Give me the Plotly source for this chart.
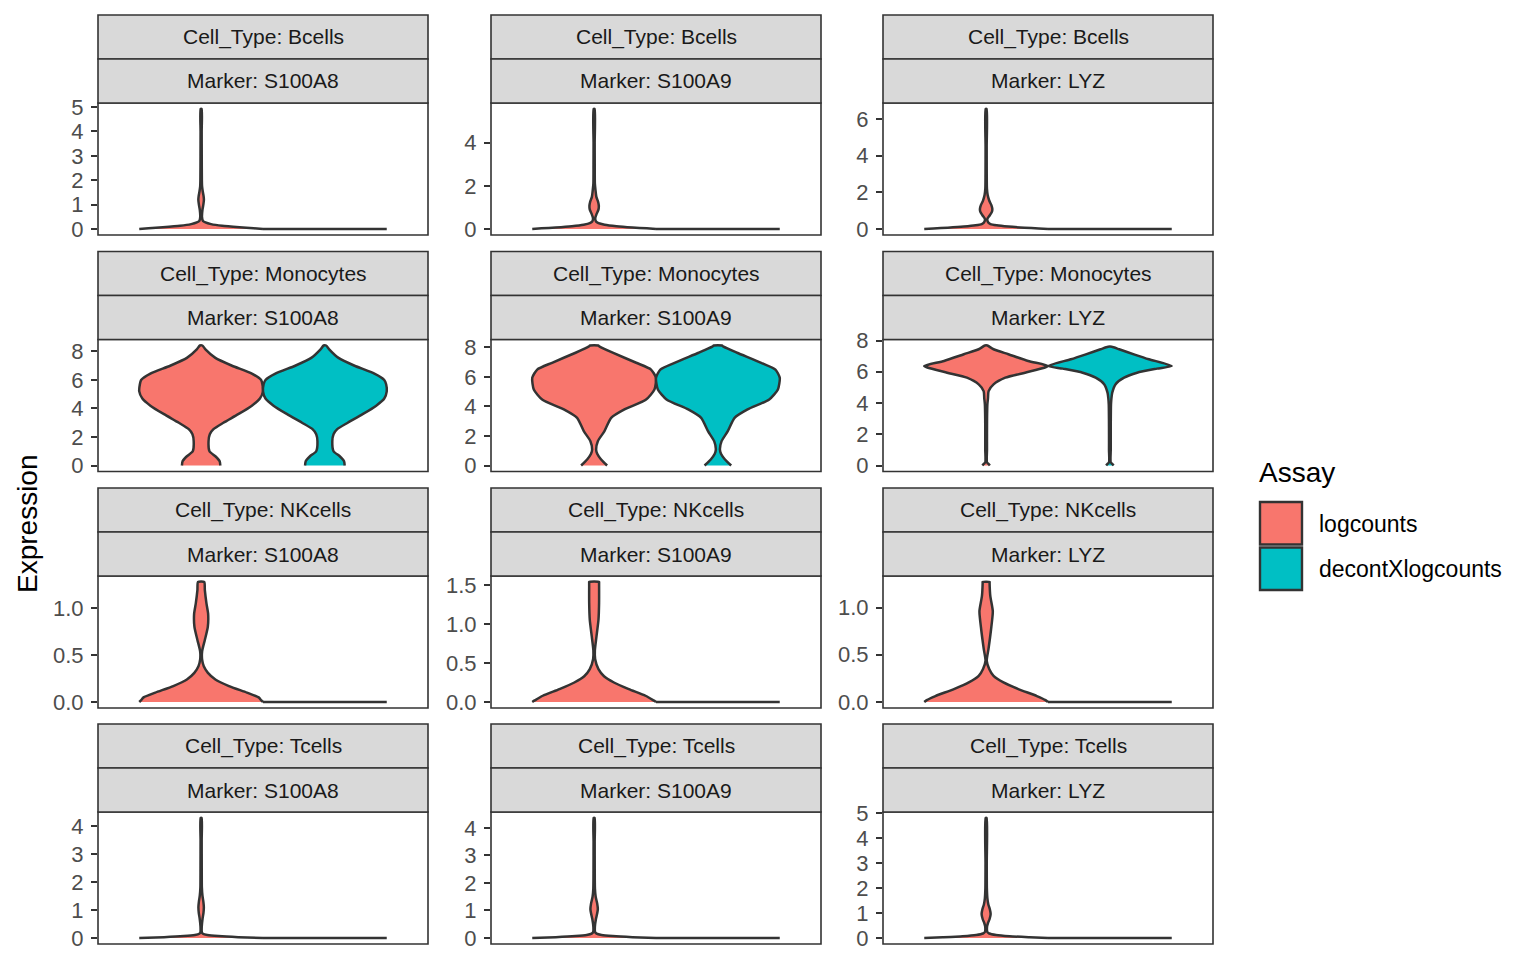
import plotly.graph_objects as go

W, H = 1536, 960

cell_types = ["Bcells", "Monocytes", "NKcells", "Tcells"]
markers = ["S100A8", "S100A9", "LYZ"]
assays = ["logcounts", "decontXlogcounts"]
assay_colors = ["#F8766D", "#00BFC4"]

# ---- violin profiles: expression levels (y) and relative half-widths (w, 1 = full violin width)
zero_y = [0, 0]
zero_w = [1.0, 1.0]

bc_a8_log_y = [0, 0.03, 0.07, 0.13, 0.2, 0.27, 0.33, 0.5, 0.8, 1.0, 1.2, 1.35, 1.55, 1.76, 2.0, 3.0, 4.0, 4.92]
bc_a8_log_w = [1.0, 0.85, 0.62, 0.34, 0.16, 0.07, 0.03, 0.014, 0.022, 0.036, 0.045, 0.04, 0.026, 0.015, 0.012, 0.01, 0.009, 0.008]

bc_a9_log_y = [0, 0.03, 0.07, 0.13, 0.2, 0.27, 0.35, 0.5, 0.7, 0.9, 1.07, 1.25, 1.5, 1.8, 2.1, 3.0, 4.0, 5.56]
bc_a9_log_w = [1.0, 0.85, 0.62, 0.36, 0.17, 0.07, 0.03, 0.018, 0.04, 0.07, 0.076, 0.065, 0.035, 0.022, 0.012, 0.01, 0.009, 0.008]

bc_lyz_log_y = [0, 0.03, 0.07, 0.13, 0.2, 0.27, 0.35, 0.55, 0.75, 0.95, 1.1, 1.3, 1.55, 1.85, 2.2, 3.0, 4.5, 6.54]
bc_lyz_log_w = [1.0, 0.85, 0.62, 0.36, 0.17, 0.07, 0.035, 0.02, 0.06, 0.095, 0.1, 0.085, 0.05, 0.025, 0.013, 0.01, 0.009, 0.008]

mo_a8_y = [0, 0.3, 0.65, 1.0, 1.7, 2.2, 2.55, 3.0, 3.6, 4.2, 4.7, 5.2, 5.7, 6.0, 6.45, 7.0, 7.55, 8.15, 8.42]
mo_a8_log_w = [0.31, 0.30, 0.23, 0.135, 0.12, 0.14, 0.2, 0.36, 0.6, 0.82, 0.95, 1.0, 0.99, 0.97, 0.82, 0.5, 0.23, 0.07, 0.02]
mo_a8_dec_w = [0.32, 0.31, 0.24, 0.14, 0.12, 0.14, 0.2, 0.37, 0.61, 0.83, 0.96, 1.0, 0.99, 0.96, 0.8, 0.48, 0.22, 0.07, 0.02]

mo_a9_y = [0, 0.41, 0.8, 1.08, 1.65, 2.33, 3.23, 3.8, 4.47, 5.15, 5.94, 6.5, 6.96, 7.64, 8.05, 8.13]
mo_a9_log_w = [0.21, 0.113, 0.05, 0.032, 0.06, 0.167, 0.275, 0.49, 0.84, 0.975, 1.0, 0.92, 0.68, 0.30, 0.09, 0.065]
mo_a9_dec_w = [0.215, 0.115, 0.05, 0.033, 0.06, 0.16, 0.27, 0.48, 0.83, 0.97, 1.0, 0.93, 0.7, 0.31, 0.09, 0.065]

mo_lyz_log_y = [0, 0.08, 0.2, 1, 2, 3, 3.9, 4.3, 4.76, 5.19, 5.62, 5.94, 6.27, 6.37, 6.69, 7.12, 7.44, 7.68]
mo_lyz_log_w = [0.06, 0.045, 0.014, 0.014, 0.014, 0.015, 0.02, 0.03, 0.04, 0.12, 0.31, 0.63, 0.95, 1.0, 0.68, 0.36, 0.12, 0.02]
mo_lyz_dec_y = [0, 0.08, 0.2, 1, 2, 3, 3.9, 4.3, 4.66, 5.19, 5.62, 5.94, 6.2, 6.37, 6.8, 7.1, 7.44, 7.6]
mo_lyz_dec_w = [0.06, 0.045, 0.014, 0.014, 0.014, 0.015, 0.018, 0.025, 0.038, 0.09, 0.23, 0.44, 0.76, 1.0, 0.63, 0.4, 0.15, 0.03]

nk_a8_log_y = [0, 0.02, 0.049, 0.10, 0.17, 0.24, 0.31, 0.38, 0.45, 0.54, 0.66, 0.80, 0.94, 1.05, 1.19, 1.277]
nk_a8_log_w = [1.0, 0.97, 0.93, 0.74, 0.45, 0.23, 0.11, 0.043, 0.016, 0.016, 0.06, 0.108, 0.113, 0.086, 0.06, 0.05]

nk_a9_log_y = [0, 0.02, 0.08, 0.165, 0.25, 0.33, 0.42, 0.55, 0.66, 0.84, 1.05, 1.27, 1.52, 1.537]
nk_a9_log_w = [1.0, 0.96, 0.83, 0.56, 0.32, 0.16, 0.07, 0.016, 0.012, 0.038, 0.07, 0.08, 0.08, 0.08]

nk_lyz_log_y = [0, 0.02, 0.063, 0.137, 0.207, 0.277, 0.35, 0.435, 0.56, 0.77, 0.96, 1.12, 1.26, 1.27]
nk_lyz_log_w = [1.0, 0.96, 0.82, 0.52, 0.28, 0.12, 0.05, 0.01, 0.038, 0.08, 0.108, 0.068, 0.056, 0.056]

tc_a8_log_y = [0, 0.03, 0.07, 0.11, 0.15, 0.2, 0.4, 0.7, 0.9, 1.1, 1.3, 1.5, 1.8, 2.5, 3.5, 4.28]
tc_a8_log_w = [1.0, 0.6, 0.28, 0.1, 0.03, 0.012, 0.01, 0.024, 0.038, 0.044, 0.036, 0.022, 0.012, 0.01, 0.009, 0.008]

tc_a9_log_y = [0, 0.03, 0.07, 0.11, 0.16, 0.22, 0.4, 0.7, 0.9, 1.05, 1.25, 1.5, 1.8, 2.5, 3.5, 4.36]
tc_a9_log_w = [1.0, 0.62, 0.3, 0.12, 0.04, 0.015, 0.012, 0.03, 0.05, 0.06, 0.05, 0.025, 0.013, 0.01, 0.009, 0.008]

tc_lyz_log_y = [0, 0.03, 0.07, 0.12, 0.18, 0.24, 0.45, 0.6, 0.75, 0.96, 1.15, 1.35, 1.6, 2.0, 3.0, 4.8]
tc_lyz_log_w = [1.0, 0.7, 0.38, 0.16, 0.05, 0.02, 0.015, 0.03, 0.055, 0.073, 0.06, 0.035, 0.02, 0.012, 0.01, 0.008]

profiles = {
    ("Bcells", "S100A8"): [(bc_a8_log_y, bc_a8_log_w), (zero_y, zero_w)],
    ("Bcells", "S100A9"): [(bc_a9_log_y, bc_a9_log_w), (zero_y, zero_w)],
    ("Bcells", "LYZ"): [(bc_lyz_log_y, bc_lyz_log_w), (zero_y, zero_w)],
    ("Monocytes", "S100A8"): [(mo_a8_y, mo_a8_log_w), (mo_a8_y, mo_a8_dec_w)],
    ("Monocytes", "S100A9"): [(mo_a9_y, mo_a9_log_w), (mo_a9_y, mo_a9_dec_w)],
    ("Monocytes", "LYZ"): [(mo_lyz_log_y, mo_lyz_log_w), (mo_lyz_dec_y, mo_lyz_dec_w)],
    ("NKcells", "S100A8"): [(nk_a8_log_y, nk_a8_log_w), (zero_y, zero_w)],
    ("NKcells", "S100A9"): [(nk_a9_log_y, nk_a9_log_w), (zero_y, zero_w)],
    ("NKcells", "LYZ"): [(nk_lyz_log_y, nk_lyz_log_w), (zero_y, zero_w)],
    ("Tcells", "S100A8"): [(tc_a8_log_y, tc_a8_log_w), (zero_y, zero_w)],
    ("Tcells", "S100A9"): [(tc_a9_log_y, tc_a9_log_w), (zero_y, zero_w)],
    ("Tcells", "LYZ"): [(tc_lyz_log_y, tc_lyz_log_w), (zero_y, zero_w)],
}

# ---- y tick values per panel
ticks_0to5 = [0, 1, 2, 3, 4, 5]
ticks_0to4 = [0, 1, 2, 3, 4]
ticks_even4 = [0, 2, 4]
ticks_even6 = [0, 2, 4, 6]
ticks_even8 = [0, 2, 4, 6, 8]
ticks_half1 = [0, 0.5, 1.0]
ticks_half15 = [0, 0.5, 1.0, 1.5]

tick_map = {
    ("Bcells", "S100A8"): ticks_0to5, ("Bcells", "S100A9"): ticks_even4, ("Bcells", "LYZ"): ticks_even6,
    ("Monocytes", "S100A8"): ticks_even8, ("Monocytes", "S100A9"): ticks_even8, ("Monocytes", "LYZ"): ticks_even8,
    ("NKcells", "S100A8"): ticks_half1, ("NKcells", "S100A9"): ticks_half15, ("NKcells", "LYZ"): ticks_half1,
    ("Tcells", "S100A8"): ticks_0to4, ("Tcells", "S100A9"): ticks_0to4, ("Tcells", "LYZ"): ticks_0to5,
}

# ---- layout geometry (pixels)
col_x = [(98, 428), (491, 821), (883, 1213)]
row_top = [15, 251.5, 488, 724]
strip_h = 44
panel_h = 132

FONT = "Liberation Sans, Arial, Helvetica, sans-serif"
EDGE = "#333333"
STRIP_FILL = "#D9D9D9"

dodge = 0.225
half_max = 0.225


def px(x):
    return x / W


def py(y):
    return 1 - y / H


fig = go.Figure()
shapes = []
annotations = []
layout_axes = {}

k = 0
for r, ct in enumerate(cell_types):
    for c, mk in enumerate(markers):
        k += 1
        xa = "x" if k == 1 else f"x{k}"
        ya = "y" if k == 1 else f"y{k}"
        x0, x1 = col_x[c]
        top = row_top[r]
        p0 = top + 2 * strip_h
        p1 = p0 + panel_h

        prof = profiles[(ct, mk)]
        ymax = max(max(p[0]) for p in prof)
        pad = 0.05 * ymax

        for a, (yy, ww) in enumerate(prof):
            center = 1 + (a * 2 - 1) * dodge
            xs = [center - w * half_max for w in ww] + [center + w * half_max for w in ww[::-1]]
            ys = list(yy) + list(yy[::-1])
            fig.add_trace(go.Scatter(
                x=xs, y=ys, xaxis=xa, yaxis=ya, mode="lines",
                fill="toself", fillcolor=assay_colors[a],
                line=dict(color=EDGE, width=2.5, shape="spline", smoothing=0.6),
                name=assays[a], showlegend=False, hoverinfo="skip",
            ))

        tv = tick_map[(ct, mk)]
        if ct == "NKcells":
            tt = [f"{v:.1f}" for v in tv]
        else:
            tt = [f"{v:g}" for v in tv]

        layout_axes["xaxis" if k == 1 else f"xaxis{k}"] = dict(
            domain=[px(x0), px(x1)], range=[0.4, 1.6], anchor=ya,
            visible=False, fixedrange=True, automargin=False,
        )
        layout_axes["yaxis" if k == 1 else f"yaxis{k}"] = dict(
            domain=[py(p1), py(p0)], range=[-pad, ymax + pad], anchor=xa,
            tickvals=tv, ticktext=tt, ticks="outside", ticklen=6, tickwidth=1.6,
            tickcolor=EDGE, tickfont=dict(family=FONT, size=22, color="#4D4D4D"),
            showgrid=False, zeroline=False, showline=False, fixedrange=True,
            ticklabelstandoff=3, automargin=False,
        )

        # panel border
        shapes.append(dict(type="rect", xref="paper", yref="paper",
                           x0=px(x0), x1=px(x1), y0=py(p1), y1=py(p0),
                           line=dict(color=EDGE, width=1.6), fillcolor="rgba(0,0,0,0)", layer="above"))
        # strips
        for s, label in enumerate([f"Cell_Type: {ct}", f"Marker: {mk}"]):
            s0 = top + s * strip_h
            s1 = s0 + strip_h
            shapes.append(dict(type="rect", xref="paper", yref="paper",
                               x0=px(x0), x1=px(x1), y0=py(s1), y1=py(s0),
                               line=dict(color=EDGE, width=1.6), fillcolor=STRIP_FILL, layer="above"))
            annotations.append(dict(text=label, xref="paper", yref="paper",
                                    x=px((x0 + x1) / 2), y=py((s0 + s1) / 2),
                                    xanchor="center", yanchor="middle", showarrow=False,
                                    font=dict(family=FONT, size=21, color="#1A1A1A")))

# y-axis title
annotations.append(dict(text="Expression", xref="paper", yref="paper",
                        x=px(27), y=py(524), textangle=-90, showarrow=False,
                        xanchor="center", yanchor="middle",
                        font=dict(family=FONT, size=28, color="black")))

# legend (drawn manually to match ggplot keys)
annotations.append(dict(text="Assay", xref="paper", yref="paper",
                        x=px(1257), y=py(472), xanchor="left", yanchor="middle",
                        showarrow=False, font=dict(family=FONT, size=28, color="black")))
key_tops = [501, 546.5]
for a, name in enumerate(assays):
    t = key_tops[a]
    shapes.append(dict(type="rect", xref="paper", yref="paper",
                       x0=px(1260), x1=px(1302), y0=py(t + 43.5), y1=py(t + 1),
                       line=dict(color=EDGE, width=2.4), fillcolor=assay_colors[a], layer="above"))
    annotations.append(dict(text=name, xref="paper", yref="paper",
                            x=px(1317), y=py(t + 22.5), xanchor="left", yanchor="middle",
                            showarrow=False, font=dict(family=FONT, size=23, color="black")))

fig.update_layout(
    template="none",
    width=W, height=H, autosize=False,
    margin=dict(l=0, r=0, t=0, b=0, pad=0, autoexpand=False),
    paper_bgcolor="white", plot_bgcolor="white",
    shapes=shapes, annotations=annotations, showlegend=False,
    **layout_axes,
)

fig.write_html("out.html", config={"displayModeBar": False},
               post_script="document.body.style.margin='0';document.body.style.padding='0';")
